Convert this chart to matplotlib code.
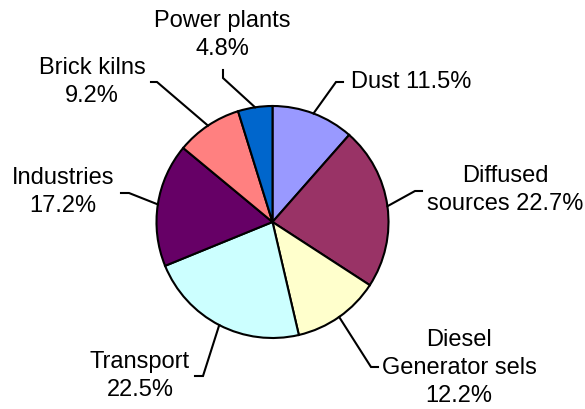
import numpy as np
import matplotlib
matplotlib.use("Agg")
import matplotlib.pyplot as plt

labels = ["Dust 11.5%", "Diffused\nsources 22.7%", "Diesel\nGenerator sels\n12.2%",
          "Transport\n22.5%", "Industries\n17.2%", "Brick kilns\n9.2%", "Power plants\n4.8%"]
values = [11.5, 22.7, 12.2, 22.5, 17.2, 9.2, 4.8]
colors = ["#9999FF", "#993366", "#FFFFCC", "#CCFFFF", "#660066", "#FF8080", "#0066CC"]

# layout (image pixel coords, y downward): text anchor, elbow, line end
text_pos = [(351, 82), (505, 190), (459, 368), (140, 376), (63, 192), (92, 82), (222, 35)]
text_ha = ["left", "center", "center", "center", "center", "center", "center"]
elbow = [(336, 82), (415, 191), (371, 367), (203, 376), (129, 193), (157, 82), (223, 78)]
endpt = [(343, 82), (422, 191), (378, 367), (195, 376), (121, 193), (151, 82), (223, 70)]

W, H = 585, 409
cx, cy, R = 272.5, 222, 116

plt.rcParams['font.family'] = ['Liberation Sans', 'DejaVu Sans']
fig = plt.figure(figsize=(W / 100, H / 100), dpi=100)
ax = fig.add_axes([0, 0, 1, 1])
ax.set_xlim(0, W)
ax.set_ylim(0, H)
ax.set_aspect('equal')
ax.axis('off')

wedges, _ = ax.pie(values, colors=colors, startangle=90, counterclock=False,
                   center=(cx, H - cy), radius=R,
                   wedgeprops=dict(edgecolor='black', linewidth=1.5))
ax.set_xlim(0, W)
ax.set_ylim(0, H)

for w, lab, tp, ha, el, ep in zip(wedges, labels, text_pos, text_ha, elbow, endpt):
    ang = np.deg2rad((w.theta1 + w.theta2) / 2)
    px = cx + R * np.cos(ang)
    py = (H - cy) + R * np.sin(ang)
    ax.plot([px, el[0], ep[0]], [py, H - el[1], H - ep[1]], color='black', lw=1.5,
            solid_joinstyle='miter', zorder=5)
    ax.text(tp[0], H - tp[1], lab, ha=ha, va='center', multialignment='center',
            fontsize=17, color='black', linespacing=1.38)

fig.savefig("out.png", dpi=100)
